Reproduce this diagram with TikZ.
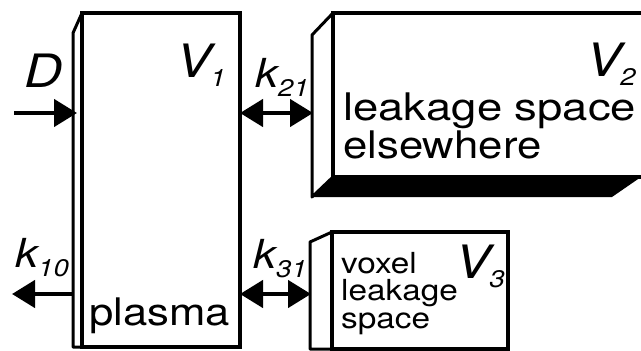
\documentclass[tikz,border=0pt]{standalone}
\usepackage{fontspec}
\setmainfont{TeX Gyre Heros}[FakeStretch=1.15]
\usetikzlibrary{arrows.meta}
\newcommand{\ports}{%
  \coordinate (Dsrc)  at (14,113);
  \coordinate (V1in)  at (77,113);
  \coordinate (V1r)   at (240,113);
  \coordinate (V2l)   at (313,113);
  \coordinate (V1out) at (73,294);
  \coordinate (Ksink) at (12,294);
  \coordinate (V1rb)  at (240,294);
  \coordinate (V3l)   at (311,294);
}
\newcommand{\subidx}[2][0pt]{\kern#1{\fontsize{24}{24}\selectfont\raisebox{-9pt}{#2}}}
\tikzset{
  face/.style={draw=black, line width=4pt, fill=white},
  side/.style={draw=black, line width=3pt, fill=white, line join=round},
  floor/.style={fill=black},
  flux/.style={line width=4.5pt, -{Triangle[length=23pt, width=27pt]}},
  exchange/.style={line width=4.5pt, {Triangle[length=23pt, width=27pt]}-{Triangle[length=23pt, width=27pt]}},
  txt/.style={anchor=base west, inner sep=0pt, font=\fontsize{38}{38}\selectfont},
  small/.style={anchor=base west, inner sep=0pt, font=\fontsize{29}{29}\selectfont},
  vol/.style={anchor=base west, inner sep=0pt, font=\fontsize{46}{46}\selectfont\itshape},
  rate/.style={anchor=base west, inner sep=0pt, font=\fontsize{40}{40}\selectfont\itshape},
}

\begin{document}
\begin{tikzpicture}[x=1pt, y=-1pt]
  \useasboundingbox (0,0) rectangle (641,351);
  \ports

  % ---------------- V1 plasma ----------------
  \draw[side] (82,13) -- (73,33) -- (73,347) -- (82,347);
  \draw[face] (82,13) rectangle (240,347);
  \node[vol] (V1lab) at (176,77) {V\subidx[-1pt]{1}};
  \node[txt] (plasma) at (89,325) {plasma};

  % ---------------- V2 leakage space elsewhere ----------------
  \fill[floor] (312,197) -- (333,177) -- (641,177) -- (612,197) -- cycle;
  \draw[side] (333,13) -- (312,35) -- (312,197) -- (333,177);
  \draw[face] (333,13) rectangle (660,177);
  \node[vol] (V2lab) at (586,76) {V\subidx[-1pt]{2}};
  \node[txt] (V2l1) at (343,120) {\scalebox{1.04}[1]{leakage space}};
  \node[txt] (V2l2) at (343,158) {elsewhere};

  % ---------------- V3 voxel leakage space ----------------
  \draw[side] (332,232) -- (310,242) -- (310,349) -- (332,349);
  \draw[face] (332,232) rectangle (508,349);
  \node[vol] (V3lab) at (455,278) {V\subidx[-1pt]{3}};
  \node[small] (V3l1) at (341,273) {voxel};
  \node[small] (V3l2) at (341,300) {leakage};
  \node[small] (V3l3) at (341,328) {space};

  % ---------------- fluxos ----------------
  \draw[flux] (Dsrc) -- (V1in);
  \draw[flux] (V1out) -- (Ksink);
  \draw[exchange] (V1r) -- (V2l);
  \draw[exchange] (V1rb) -- (V3l);
  \node[vol] (Dlab) at (24,87) {D};
  \node[rate] (k21lab) at (255,87) {k\subidx{21}};
  \node[rate] (k31lab) at (253,268) {k\subidx{31}};
  \node[rate] (k10lab) at (15,267) {k\subidx{10}};
\end{tikzpicture}
\end{document}
